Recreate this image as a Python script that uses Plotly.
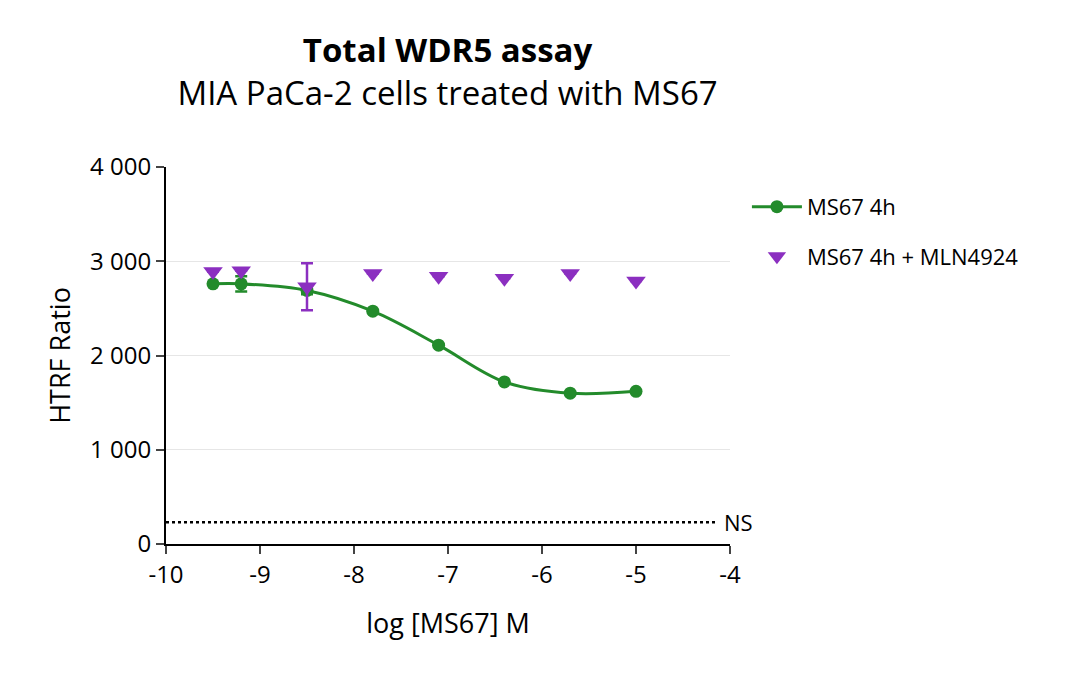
import plotly.graph_objects as go

log_conc = [-9.5, -9.2, -8.5, -7.8, -7.1, -6.4, -5.7, -5.0]
ms67 = [2760, 2760, 2690, 2470, 2110, 1720, 1600, 1620]
ms67_err = [0, 80, 40, 0, 0, 0, 0, 0]
mln = [2890, 2900, 2730, 2870, 2840, 2820, 2870, 2790]
mln_err = [0, 0, 250, 0, 0, 0, 0, 0]
x_ticks = [-10, -9, -8, -7, -6, -5, -4]
x_ticklabels = ["-10", "-9", "-8", "-7", "-6", "-5", "-4"]
ns_level = 230
green = "#238B2B"
purple = "#8B2FC0"

fig = go.Figure()
fig.add_trace(go.Scatter(x=log_conc, y=ms67, mode="lines+markers", name="MS67 4h",
    legendgroup="g1",
    line=dict(color=green, width=3, shape="spline", smoothing=1.0),
    marker=dict(size=13, color=green),
    error_y=dict(type="data", array=ms67_err, color=green, thickness=2.5, width=6)))
fig.add_trace(go.Scatter(x=log_conc, y=mln, mode="markers", name="MS67 4h + MLN4924",
    legendgroup="g2",
    marker=dict(size=17, color=purple, symbol="triangle-down"),
    error_y=dict(type="data", array=mln_err, color=purple, thickness=2.5, width=6)))
fig.add_trace(go.Scatter(x=[-10, -4.15], y=[ns_level, ns_level], mode="lines", showlegend=False,
    line=dict(color="black", width=2.5, dash="dot"), hoverinfo="skip"))
fig.add_annotation(x=-4.08, y=ns_level, text="NS", showarrow=False, xanchor="left",
    font=dict(size=22, color="black"))

fig.update_layout(
    width=1080, height=673, paper_bgcolor="white", plot_bgcolor="white",
    font=dict(family="Open Sans", size=24, color="black"),
    separators=". ",
    margin=dict(l=158, r=358, t=159, b=137),
    title=dict(text="<b>Total WDR5 assay</b><br>MIA PaCa-2 cells treated with MS67",
               x=0.407, xanchor="center", y=0.92, yanchor="top", font=dict(size=33)),
    xaxis=dict(range=[-10, -4], tickvals=x_ticks, ticktext=x_ticklabels, showgrid=False,
               showline=True, linecolor="black", linewidth=2, ticks="outside", ticklen=8,
               tickwidth=2, zeroline=False, title=dict(text="log [MS67] M", standoff=25, font=dict(size=27))),
    yaxis=dict(range=[0, 4000], tickvals=[0, 1000, 2000, 3000, 4000], tickformat=",d",
               showgrid=True, gridcolor="#E6E6E6", showline=True, linecolor="black", linewidth=2,
               ticks="outside", ticklen=8, tickwidth=2, zeroline=False,
               title=dict(text="HTRF Ratio", standoff=12, font=dict(size=27))),
    legend=dict(x=1.03, y=0.95, xanchor="left", yanchor="top", font=dict(size=22),
                tracegroupgap=18, itemwidth=50),
)
fig.write_html("out.html")
